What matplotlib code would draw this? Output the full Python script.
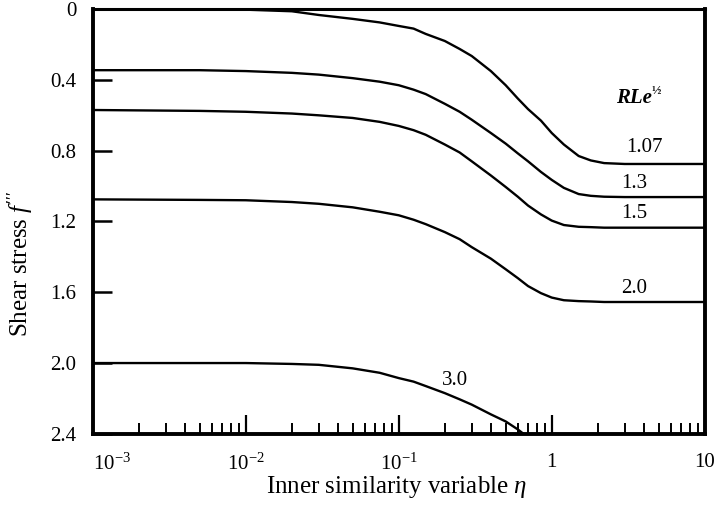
import numpy as np
import matplotlib
matplotlib.use("Agg")
import matplotlib.pyplot as plt
from matplotlib.ticker import FixedLocator, NullFormatter

plt.rcParams['font.family'] = ['Liberation Serif', 'DejaVu Serif']
plt.rcParams['mathtext.fontset'] = 'custom'
plt.rcParams['mathtext.rm'] = 'Liberation Serif'
plt.rcParams['mathtext.it'] = 'Liberation Serif:italic'
plt.rcParams['mathtext.bf'] = 'Liberation Serif:bold'

# ---- data ----
eta = [0.001, 0.005, 0.01, 0.02, 0.03, 0.05, 0.075, 0.1, 0.125, 0.15, 0.2, 0.25, 0.3,
       0.4, 0.5, 0.6, 0.7, 0.85, 1.0, 1.2, 1.5, 1.8, 2.2, 3.0, 10.0]
f_107 = [0.0, 0.0, 0.003, 0.012, 0.033, 0.055, 0.075, 0.095, 0.11, 0.14, 0.18, 0.225, 0.265,
         0.35, 0.43, 0.505, 0.565, 0.63, 0.70, 0.765, 0.83, 0.855, 0.87, 0.875, 0.875]
f_13 = [0.345, 0.345, 0.35, 0.36, 0.37, 0.39, 0.41, 0.43, 0.455, 0.48, 0.535, 0.58, 0.625,
        0.70, 0.76, 0.815, 0.86, 0.92, 0.965, 1.01, 1.045, 1.055, 1.06, 1.062, 1.062]
f_15 = [0.57, 0.575, 0.58, 0.59, 0.60, 0.615, 0.637, 0.66, 0.684, 0.71, 0.765, 0.81, 0.86,
        0.94, 1.005, 1.06, 1.11, 1.16, 1.195, 1.22, 1.23, 1.232, 1.235, 1.235, 1.235]
f_20 = [1.075, 1.078, 1.08, 1.09, 1.10, 1.12, 1.145, 1.165, 1.19, 1.215, 1.26, 1.30, 1.345,
        1.41, 1.47, 1.52, 1.565, 1.605, 1.63, 1.645, 1.65, 1.652, 1.655, 1.655, 1.655]
eta_30 = [0.001, 0.005, 0.01, 0.02, 0.03, 0.05, 0.075, 0.1, 0.125, 0.15, 0.2, 0.25, 0.3,
          0.4, 0.5, 0.6, 0.7]
f_30 = [2.0, 2.0, 2.0, 2.005, 2.01, 2.03, 2.055, 2.085, 2.105, 2.13, 2.17, 2.205, 2.235,
        2.29, 2.33, 2.375, 2.42]

curve_labels = ['1.07', '1.3', '1.5', '2.0', '3.0']
label_eta = [4.06, 3.48, 3.48, 3.48, 0.232]
label_f = [0.78, 0.983, 1.153, 1.576, 2.096]

yticks = [0, 0.4, 0.8, 1.2, 1.6, 2.0, 2.4]
ytick_labels = ['0', '0.4', '0.8', '1.2', '1.6', '2.0', '2.4']
xticks = [1e-3, 1e-2, 1e-1, 1, 10]
xtick_labels = ['$10^{-3}$', '$10^{-2}$', '$10^{-1}$', '1', '10']

# ---- figure ----
fig = plt.figure(figsize=(7.14, 5.08), dpi=100)
ax = fig.add_axes([0.130, 0.146, 0.857, 0.836])

for fv in [f_107, f_13, f_15, f_20]:
    ax.plot(eta, fv, color='black', lw=1.7)
ax.plot(eta_30, f_30, color='black', lw=1.7)

ax.set_xscale('log')
ax.set_xlim(1e-3, 10)
ax.set_ylim(2.4, 0)

ax.xaxis.set_major_locator(FixedLocator(xticks))
ax.set_xticklabels(xtick_labels)
minor = [m * 10.0**d for d in range(-3, 1) for m in range(2, 10)]
ax.xaxis.set_minor_locator(FixedLocator(minor))
ax.xaxis.set_minor_formatter(NullFormatter())
ax.set_yticks(yticks)
ax.set_yticklabels(ytick_labels)

ax.tick_params(axis='x', which='major', direction='in', length=14, width=1.6,
               labelsize=15, pad=14, top=False)
ax.tick_params(axis='x', which='minor', direction='in', length=8, width=1.4, top=False)
ax.tick_params(axis='y', which='major', direction='in', length=14, width=1.8,
               labelsize=15, pad=12, right=False)
ax.get_xticklabels()[0].set_horizontalalignment('left')

for side in ['left', 'bottom', 'right']:
    ax.spines[side].set_linewidth(2.8)
ax.spines['top'].set_linewidth(2.2)

for t, xe, yf in zip(curve_labels, label_eta, label_f):
    ax.text(xe, yf, t, ha='center', va='center', fontsize=15)
ax.text(4.51, 0.50, 'RLe', ha='right', va='center', fontsize=15,
        fontstyle='italic', fontweight='bold')
ax.text(4.51, 0.46, '½', ha='left', va='center', fontsize=9, fontweight='bold')

ax.set_ylabel("Shear stress $f'''$", fontsize=18)
ax.yaxis.set_label_coords(-0.094, 0.40)
ax.set_xlabel(r'Inner similarity variable $\eta$', fontsize=18)
ax.xaxis.set_label_coords(0.497, -0.095)

fig.savefig('out.png', dpi=100)
